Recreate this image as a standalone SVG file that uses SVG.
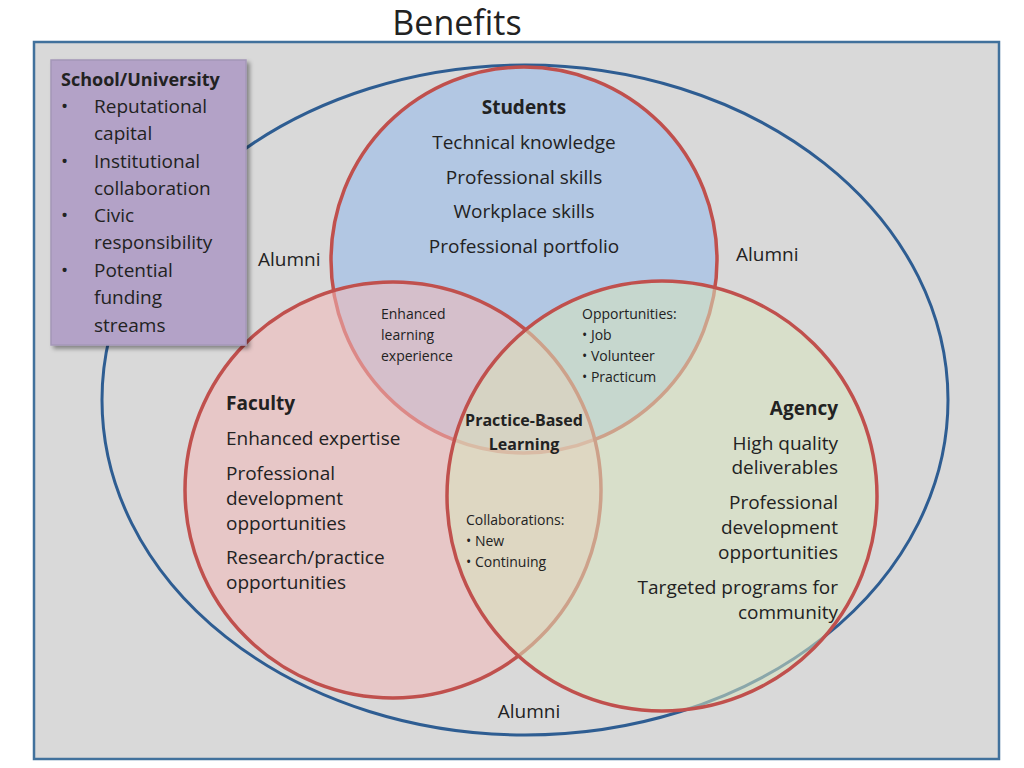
<svg xmlns="http://www.w3.org/2000/svg" width="1024" height="768" viewBox="0 0 1024 768">
<style>
text{font-family:"Open Sans","Liberation Sans",sans-serif;fill:#222}
.t{font-size:19px}
.s{font-size:14px}
.b{font-weight:bold}
.c{stroke:#c0504d;stroke-width:3.5}
</style>
<defs><filter id="sh"><feDropShadow dx="3" dy="3" stdDeviation="2" flood-opacity="0.4"/></filter></defs>
<rect width="1024" height="768" fill="#fff"/>
<text x="457" y="35" font-size="34" text-anchor="middle">Benefits</text>
<rect x="34" y="42" width="965" height="717" fill="#d9d9d9" stroke="#41719c" stroke-width="2.5"/>
<ellipse cx="525" cy="400" rx="423" ry="335" fill="none" stroke="#2e5d92" stroke-width="3"/>
<g id="connectors"></g>
<g id="students"><circle class="c" cx="524" cy="260" r="193" fill="#b0c6e4" fill-opacity="0.95"/></g>
<g id="faculty"><circle class="c" cx="393" cy="490" r="208" fill="#f2b8b8" fill-opacity="0.55"/></g>
<g id="agency"><circle class="c" cx="662" cy="496" r="215" fill="#d7e4bd" fill-opacity="0.55"/></g>
<g id="labels">
<text class="t b" x="524" y="114" text-anchor="middle" font-size="18">Students</text>
<text class="t" x="524" y="149" text-anchor="middle">Technical knowledge</text>
<text class="t" x="524" y="184" text-anchor="middle">Professional skills</text>
<text class="t" x="524" y="218" text-anchor="middle">Workplace skills</text>
<text class="t" x="524" y="253" text-anchor="middle">Professional portfolio</text>
<text class="t" x="258" y="266">Alumni</text>
<text class="t" x="736" y="261">Alumni</text>
<text class="t" x="529" y="718" text-anchor="middle">Alumni</text>
<text class="s" x="381" y="319">Enhanced</text>
<text class="s" x="381" y="340">learning</text>
<text class="s" x="381" y="361">experience</text>
<text class="s" x="582" y="319">Opportunities:</text>
<text class="s" x="582" y="340">•  Job</text>
<text class="s" x="582" y="361">•  Volunteer</text>
<text class="s" x="582" y="382">•  Practicum</text>
<text class="b" font-size="16" x="524" y="426" text-anchor="middle">Practice-Based</text>
<text class="b" font-size="16" x="524" y="450" text-anchor="middle">Learning</text>
<text class="s" x="466" y="525">Collaborations:</text>
<text class="s" x="466" y="546">•  New</text>
<text class="s" x="466" y="567">•  Continuing</text>
<text class="t b" x="226" y="410" font-size="18">Faculty</text>
<text class="t" x="226" y="445">Enhanced expertise</text>
<text class="t" x="226" y="480">Professional</text>
<text class="t" x="226" y="505">development</text>
<text class="t" x="226" y="530">opportunities</text>
<text class="t" x="226" y="564">Research/practice</text>
<text class="t" x="226" y="589">opportunities</text>
<text class="t b" x="838" y="415" font-size="18" text-anchor="end">Agency</text>
<text class="t" x="838" y="450" text-anchor="end">High quality</text>
<text class="t" x="838" y="474" text-anchor="end">deliverables</text>
<text class="t" x="838" y="509" text-anchor="end">Professional</text>
<text class="t" x="838" y="534" text-anchor="end">development</text>
<text class="t" x="838" y="559" text-anchor="end">opportunities</text>
<text class="t" x="838" y="594" text-anchor="end">Targeted programs for</text>
<text class="t" x="838" y="619" text-anchor="end">community</text>
</g>
<g id="school">
<rect x="51" y="60" width="195" height="285" fill="#b3a2c7" stroke="#a497b8" stroke-width="1.5" filter="url(#sh)"/>
<text class="b" font-size="18" x="61" y="86">School/University</text>
<text class="t" x="61" y="113">•</text><text class="t" x="94" y="113">Reputational</text>
<text class="t" x="94" y="140">capital</text>
<text class="t" x="61" y="168">•</text><text class="t" x="94" y="168">Institutional</text>
<text class="t" x="94" y="195">collaboration</text>
<text class="t" x="61" y="222">•</text><text class="t" x="94" y="222">Civic</text>
<text class="t" x="94" y="249">responsibility</text>
<text class="t" x="61" y="277">•</text><text class="t" x="94" y="277">Potential</text>
<text class="t" x="94" y="304">funding</text>
<text class="t" x="94" y="332">streams</text>
</g>
</svg>
